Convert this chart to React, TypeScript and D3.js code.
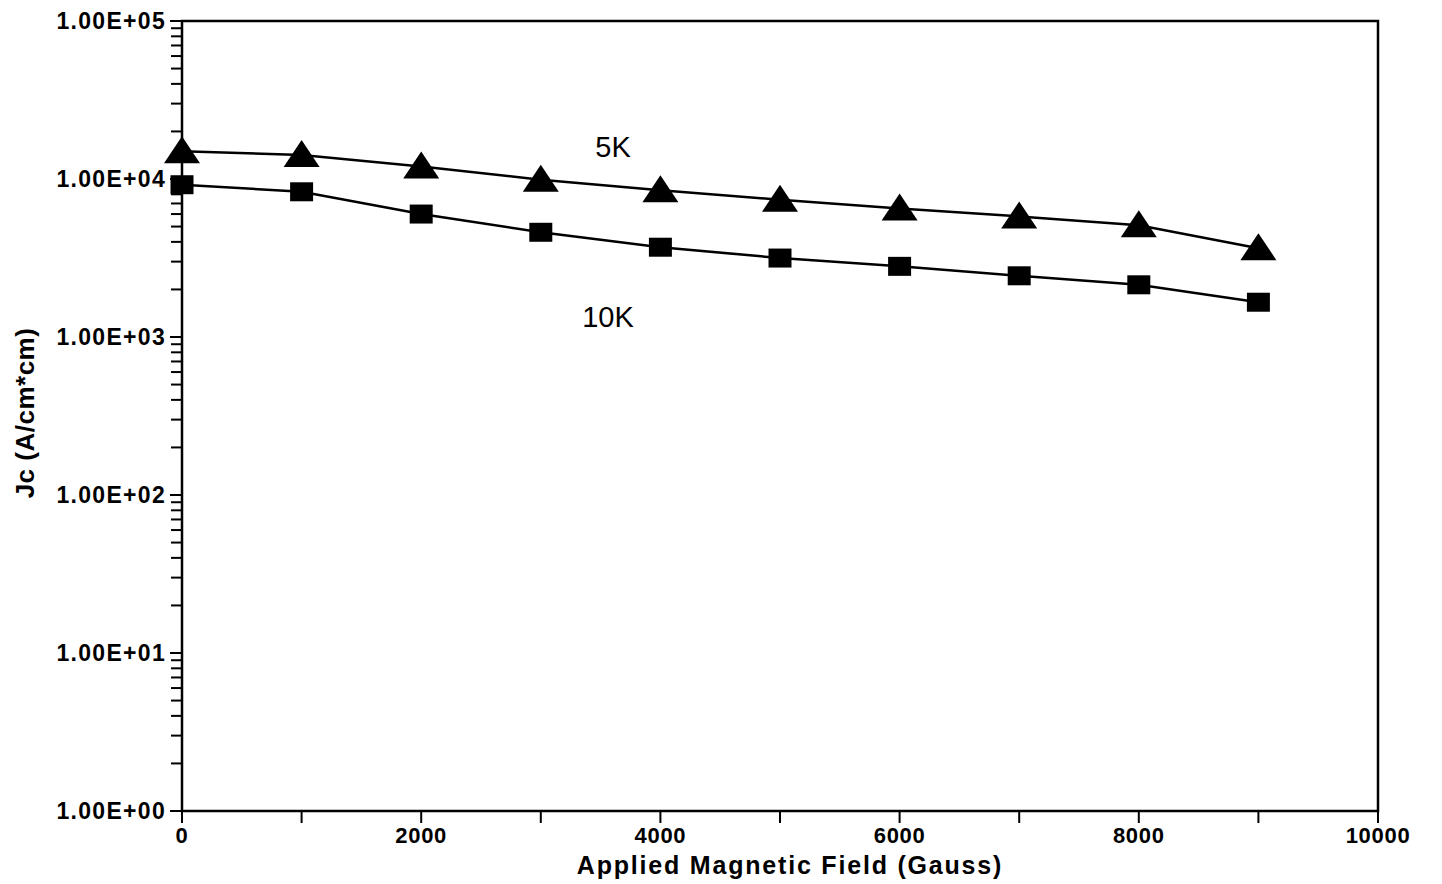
import { useEffect, useRef } from 'react';
import * as d3 from 'd3';

// Applied field (Gauss)
const FIELD = [0, 1000, 2000, 3000, 4000, 5000, 6000, 7000, 8000, 9000];
// Jc at 5K and 10K (A/cm*cm)
const JC_5K = [15000, 14200, 12000, 9900, 8500, 7400, 6500, 5800, 5100, 3650];
const JC_10K = [9200, 8300, 6000, 4600, 3700, 3160, 2800, 2440, 2140, 1660];
const X_TICKS = [0, 2000, 4000, 6000, 8000, 10000];
const Y_TICKS = [1, 10, 100, 1000, 10000, 100000];

const W = 1442;
const H = 884;
const M = { left: 182, right: 1378, top: 21, bottom: 811 };
const FONT = '"Liberation Sans", Arial, sans-serif';

// wide triangle, roughly 36 x 27 px
const wideTriangle = {
  draw(ctx: any) {
    ctx.moveTo(0, -15);
    ctx.lineTo(18, 12);
    ctx.lineTo(-18, 12);
    ctx.closePath();
  },
};
// slightly flat square, roughly 23 x 19 px
const flatSquare = {
  draw(ctx: any) {
    ctx.rect(-11.5, -9.5, 23, 19);
  },
};

export default function App() {
  const svgRef = useRef<SVGSVGElement>(null);

  useEffect(() => {
    document.body.style.margin = '0';
    if (!svgRef.current) return;
    const svg = d3.select(svgRef.current);
    svg.selectAll('*').remove();

    const x = d3.scaleLinear().domain([0, 10000]).range([M.left, M.right]);
    const y = d3.scaleLog().domain([1, 100000]).range([M.bottom, M.top]);

    // frame
    svg.append('rect')
      .attr('x', M.left).attr('y', M.top)
      .attr('width', M.right - M.left).attr('height', M.bottom - M.top)
      .attr('fill', 'none').attr('stroke', '#000').attr('stroke-width', 2.5);

    // y minor + major ticks (left side)
    const yMinor: number[] = [];
    for (let d = 0; d < 5; d++) {
      for (let k = 2; k <= 9; k++) yMinor.push(k * Math.pow(10, d));
    }
    svg.append('g').selectAll('line').data(yMinor).join('line')
      .attr('x1', M.left - 11).attr('x2', M.left)
      .attr('y1', d => y(d)).attr('y2', d => y(d))
      .attr('stroke', '#000').attr('stroke-width', 2);
    svg.append('g').selectAll('line').data(Y_TICKS).join('line')
      .attr('x1', M.left - 12).attr('x2', M.left)
      .attr('y1', d => y(d)).attr('y2', d => y(d))
      .attr('stroke', '#000').attr('stroke-width', 2);

    const expFmt = (v: number) => {
      const e = Math.round(Math.log10(v));
      return `1.00E+${String(e).padStart(2, '0')}`;
    };
    svg.append('g').selectAll('text').data(Y_TICKS).join('text')
      .attr('x', M.left - 16).attr('y', d => y(d) + 8)
      .attr('text-anchor', 'end')
      .attr('font-family', FONT).attr('font-weight', 'bold').attr('font-size', 23)
      .attr('letter-spacing', 1.3)
      .text(d => expFmt(d));

    // x ticks every 1000
    const xTicksAll = d3.range(0, 10001, 1000);
    svg.append('g').selectAll('line').data(xTicksAll).join('line')
      .attr('x1', d => x(d)).attr('x2', d => x(d))
      .attr('y1', M.bottom).attr('y2', M.bottom + 12)
      .attr('stroke', '#000').attr('stroke-width', 2);
    svg.append('g').selectAll('text').data(X_TICKS).join('text')
      .attr('x', d => x(d)).attr('y', M.bottom + 32)
      .attr('text-anchor', 'middle')
      .attr('font-family', FONT).attr('font-weight', 'bold').attr('font-size', 22)
      .attr('letter-spacing', 0.7)
      .text(d => String(d));

    // axis titles
    svg.append('text')
      .attr('x', 790).attr('y', 874)
      .attr('text-anchor', 'middle')
      .attr('font-family', FONT).attr('font-weight', 'bold').attr('font-size', 25)
      .attr('letter-spacing', 1.8)
      .text('Applied Magnetic Field (Gauss)');
    svg.append('text')
      .attr('transform', `translate(34, 413) rotate(-90)`)
      .attr('text-anchor', 'middle')
      .attr('font-family', FONT).attr('font-weight', 'bold').attr('font-size', 26)
      .attr('letter-spacing', 0.5)
      .text('Jc (A/cm*cm)');

    const line = d3.line<number>().x((_, i) => x(FIELD[i])).y(d => y(d));
    const series = [
      { data: JC_5K, shape: wideTriangle },
      { data: JC_10K, shape: flatSquare },
    ];
    series.forEach(s => {
      svg.append('path').datum(s.data).attr('d', line)
        .attr('fill', 'none').attr('stroke', '#000').attr('stroke-width', 2.5);
      svg.append('g').selectAll('path').data(s.data).join('path')
        .attr('transform', (d, i) => `translate(${x(FIELD[i])},${y(d)})`)
        .attr('d', d3.symbol().type(s.shape as any)())
        .attr('fill', '#000');
    });

    // series labels
    svg.append('text')
      .attr('x', 613).attr('y', 157).attr('text-anchor', 'middle')
      .attr('font-family', FONT).attr('font-size', 29)
      .text('5K');
    svg.append('text')
      .attr('x', 608).attr('y', 327).attr('text-anchor', 'middle')
      .attr('font-family', FONT).attr('font-size', 29)
      .text('10K');
  }, []);

  return <svg ref={svgRef} width={W} height={H} style={{ display: 'block', background: '#fff' }} />;
}
